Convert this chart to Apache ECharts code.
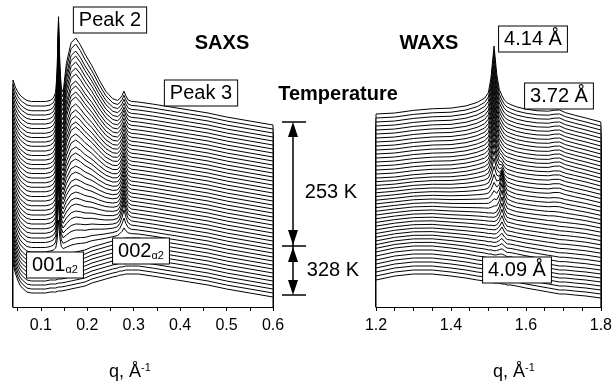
<!DOCTYPE html>
<html>
<head>
<meta charset="utf-8">
<script src="https://cdn.jsdelivr.net/npm/echarts@6.0.0/dist/echarts.min.js"></script>
<style>
html, body { margin: 0; padding: 0; background: #fff; }
#chart { width: 615px; height: 384px; }
</style>
</head>
<body>
<div id="chart"></div>
<script>
// ---- SAXS: q grid and curve shapes (height above the axis)
var saxsQ = [0.04, 0.045, 0.05, 0.055, 0.06, 0.07, 0.08, 0.09, 0.10, 0.11, 0.12, 0.127, 0.132, 0.135,
	0.138, 0.141, 0.144, 0.148, 0.155, 0.165, 0.175, 0.185, 0.195, 0.21, 0.225, 0.24, 0.255, 0.265,
	0.27, 0.275, 0.279, 0.283, 0.288, 0.295, 0.31, 0.34, 0.38, 0.42, 0.46, 0.50, 0.55, 0.60];
// front curve (328 K melt)
var saxsHot = [44, 34, 27, 22, 19, 15, 14, 14, 14, 14, 15, 15, 15, 15,
	16, 16, 16, 16, 17, 18, 19, 20, 21, 24, 26, 28, 30, 31,
	32, 32, 33, 33, 33, 33, 33, 31, 28, 25, 22, 18, 14, 10];
// Peak 2 (broad) shape
var saxsBroad = [0.14, 0.18, 0.21, 0.23, 0.24, 0.25, 0.25, 0.25, 0.25, 0.25, 0.25, 0.25, 0.25, 0.26,
	0.26, 0.26, 0.27, 0.3, 0.7, 0.95, 1.0, 0.9, 0.77, 0.58, 0.38, 0.2, 0.08, 0.04,
	0.03, 0.02, 0.01, 0.01, 0, 0, 0, 0, 0, 0, 0, 0, 0, 0];
// 001 a2 (sharp) shape
var saxsSharp = [0, 0, 0, 0, 0, 0, 0, 0, 0, 0, 0, 0.03, 0.1, 0.35,
	1, 0.4, 0.12, 0.04, 0, 0, 0, 0, 0, 0, 0, 0, 0, 0,
	0, 0, 0, 0, 0, 0, 0, 0, 0, 0, 0, 0, 0, 0];
// Peak 3 / 002 a2 shape
var saxsP3 = [0, 0, 0, 0, 0, 0, 0, 0, 0, 0, 0, 0, 0, 0,
	0, 0, 0, 0, 0, 0, 0, 0, 0, 0, 0, 0, 0, 0.05,
	0.2, 0.6, 1, 0.55, 0.2, 0.06, 0, 0, 0, 0, 0, 0, 0, 0];

// per curve amplitudes, index 0 = front (bottom) curve
var sharpAmp = [0, 0, 0, 0, 0, 0, 0, 0, 0, 0, 30, 45, 55, 60, 62, 63, 64, 65, 66, 67, 68, 69,
	70, 71, 72, 72, 73, 74, 74, 75, 76, 76, 77, 77, 78, 78, 79, 79, 80, 80, 81, 81, 82, 82];
var broadAmp = [0, 0, 0, 0, 0, 0, 0, 0, 0, 0, 4, 6, 10, 12, 15, 17, 20, 22, 24, 27, 29, 32,
	34, 37, 39, 41, 44, 46, 49, 50, 52, 54, 56, 59, 60, 62, 63, 66, 68, 70, 72, 73, 76, 78];
var p3Amp = [0, 0, 0, 0, 0, 0, 0, 0, 0, 0, 6, 12, 16, 18, 18, 17, 17, 16, 16, 16, 15, 15,
	15, 14, 14, 14, 14, 13, 13, 13, 13, 13, 12, 12, 12, 11, 11, 11, 11, 10, 10, 10, 10, 10];

// ---- WAXS
var waxsQ = [1.2, 1.25, 1.3, 1.35, 1.4, 1.44, 1.47, 1.49, 1.50, 1.507, 1.515, 1.522, 1.529, 1.536,
	1.543, 1.55, 1.56, 1.575, 1.6, 1.63, 1.66, 1.675, 1.69, 1.705, 1.73, 1.76, 1.8];
var waxsHot = [27, 31, 33, 33, 31, 29, 27, 26, 25, 25, 24, 24, 24, 23,
	23, 22, 22, 21, 19, 17, 15, 14, 13, 13, 12, 11, 9];
var waxsCold = [21, 22, 24, 25, 25, 26, 27, 27, 27, 27, 27, 27, 27, 27,
	26, 26, 26, 25, 24, 23, 22, 22, 21, 20, 19, 17, 13];
// 4.09 A, 4.14 A and 3.72 A shapes
var waxsA = [0, 0, 0, 0, 0, 0, 0, 0, 0, 0, 0.02, 0.1, 0.4, 1,
	0.4, 0.12, 0.04, 0, 0, 0, 0, 0, 0, 0, 0, 0, 0];
var waxsB = [0, 0, 0.01, 0.02, 0.03, 0.05, 0.09, 0.16, 0.25, 0.5, 1, 0.55, 0.3, 0.2,
	0.14, 0.1, 0.07, 0.05, 0.03, 0.02, 0.01, 0, 0, 0, 0, 0, 0];
var waxsC = [0, 0, 0, 0, 0, 0, 0, 0, 0, 0, 0, 0, 0, 0,
	0, 0, 0, 0, 0, 0, 0.3, 0.7, 1, 0.6, 0.2, 0, 0];

var amp409 = [0, 0, 0, 0, 0, 0, 0, 2, 3, 4, 5, 6, 8, 9, 11, 13, 15, 17, 19, 21, 22, 21,
	18, 14, 10, 7, 5, 3, 2, 1, 0, 0, 0, 0, 0, 0, 0, 0, 0, 0, 0, 0, 0, 0];
var amp414 = [0, 0, 0, 0, 0, 0, 0, 0, 0, 0, 0, 0, 0, 0, 0, 0, 0, 0, 3, 6, 10, 14,
	18, 22, 26, 29, 32, 34, 36, 38, 40, 42, 44, 45, 47, 49, 50, 52, 54, 55, 57, 59, 60, 62];
var amp372 = [0, 0, 0, 0, 0, 0, 0, 0, 0, 0, 0, 0, 0, 0, 0, 0, 0, 0, 1, 1, 2, 2,
	2, 3, 3, 3, 3, 3, 3, 4, 4, 4, 4, 4, 4, 4, 4, 4, 4, 4, 4, 4, 4, 4];
var crystalFrac = [0, 0, 0, 0, 0, 0, 0, 0, 0.05, 0.1, 0.15, 0.2, 0.25, 0.3, 0.35, 0.4, 0.45, 0.5, 0.55, 0.6, 0.65, 0.7,
	0.75, 0.8, 0.85, 0.9, 0.95, 1, 1, 1, 1, 1, 1, 1, 1, 1, 1, 1, 1, 1, 1, 1, 1, 1];

// ---- axes
var saxsTicks = [0.05, 0.10, 0.15, 0.20, 0.25, 0.30, 0.35, 0.40, 0.45, 0.50, 0.55, 0.60];
var saxsLabels = [0.1, 0.2, 0.3, 0.4, 0.5, 0.6];
var waxsTicks = [1.2, 1.25, 1.3, 1.35, 1.4, 1.45, 1.5, 1.55, 1.6, 1.65, 1.7, 1.75, 1.8];
var waxsLabels = [1.2, 1.4, 1.6, 1.8];

var stepOffset = 4; // waterfall shift between curves
var FONT = '"Liberation Sans", Arial, sans-serif';

function saxsValue(i, k) {
	return saxsHot[k] + stepOffset * i + broadAmp[i] * saxsBroad[k] +
		sharpAmp[i] * saxsSharp[k] + p3Amp[i] * saxsP3[k];
}

function waxsValue(i, k) {
	var f = crystalFrac[i];
	return (1 - f) * waxsHot[k] + f * waxsCold[k] + stepOffset * i +
		amp409[i] * waxsA[k] + amp414[i] * waxsB[k] + amp372[i] * waxsC[k];
}

// back curves first, every curve filled white so the front ones hide the ones behind
function addCurves(list, idx, qs, n, getValue) {
	for (var i = n - 1; i >= 0; i--) {
		var data = [[qs[0], 0]];
		for (var k = 0; k < qs.length; k++) {
			data.push([qs[k], getValue(i, k)]);
		}
		data.push([qs[qs.length - 1], 0]);
		list.push({
			type: 'line',
			xAxisIndex: idx,
			yAxisIndex: idx,
			data: data,
			symbol: 'none',
			silent: true,
			z: 10 + n - i,
			lineStyle: { color: '#000', width: 1 },
			areaStyle: { color: '#fff', opacity: 1, origin: 'start' }
		});
	}
}

function makeXAxis(idx, min, max, ticks, labels) {
	return {
		type: 'value',
		gridIndex: idx,
		min: min,
		max: max,
		z: 200,
		splitLine: { show: false },
		axisLine: { lineStyle: { color: '#000', width: 1 } },
		axisTick: { customValues: ticks, length: 4, lineStyle: { color: '#000' } },
		axisLabel: {
			customValues: labels,
			margin: 11,
			color: '#000',
			fontSize: 16,
			fontFamily: FONT,
			formatter: function (v) { return v.toFixed(1); }
		}
	};
}

function boxLabel(x, y, main, sub) {
	var txt = sub ? '{n|' + main + '}{g|' + sub + '}' : '{n|' + main + '}';
	return {
		type: 'text',
		x: x,
		y: y,
		z: 300,
		style: {
			text: txt,
			align: 'center',
			verticalAlign: 'middle',
			backgroundColor: '#fff',
			borderColor: '#000',
			borderWidth: 1,
			padding: [2, 5, 2, 5],
			rich: {
				n: { fontSize: 20, fontFamily: FONT, fill: '#000', lineHeight: 21 },
				g: { fontSize: 11, fontFamily: FONT, fill: '#000', verticalAlign: 'bottom', lineHeight: 11 }
			}
		}
	};
}

function axisName(x, y) {
	return {
		type: 'text',
		x: x,
		y: y,
		z: 300,
		style: {
			text: '{a|q, Å}{s|-1}',
			align: 'center',
			verticalAlign: 'middle',
			rich: {
				a: { fontSize: 18, fontFamily: FONT, fill: '#000', lineHeight: 20 },
				s: { fontSize: 11, fontFamily: FONT, fill: '#000', verticalAlign: 'top', lineHeight: 11 }
			}
		}
	};
}

function plainText(x, y, text, bold, size) {
	return {
		type: 'text',
		x: x,
		y: y,
		z: 300,
		style: {
			text: text,
			align: 'center',
			verticalAlign: 'middle',
			fill: '#000',
			font: (bold ? 'bold ' : '') + size + 'px ' + FONT
		}
	};
}

function seg(x1, y1, x2, y2, w) {
	return { type: 'line', z: 300, shape: { x1: x1, y1: y1, x2: x2, y2: y2 }, style: { stroke: '#000', lineWidth: w } };
}

function head(points) {
	return { type: 'polygon', z: 300, shape: { points: points }, style: { fill: '#000' } };
}

var series = [];
addCurves(series, 0, saxsQ, sharpAmp.length, saxsValue);
addCurves(series, 1, waxsQ, amp414.length, waxsValue);

var chartOption = {
	animation: false,
	grid: [
		{ left: 13, right: 342, top: 10, bottom: 77 },
		{ left: 376, right: 14, top: 10, bottom: 77 }
	],
	xAxis: [
		makeXAxis(0, 0.04, 0.6, saxsTicks, saxsLabels),
		makeXAxis(1, 1.2, 1.8, waxsTicks, waxsLabels)
	],
	yAxis: [
		{ type: 'value', gridIndex: 0, min: 0, max: 297, show: false },
		{ type: 'value', gridIndex: 1, min: 0, max: 297, show: false }
	],
	series: series,
	graphic: [
		boxLabel(110, 20, 'Peak 2'),
		boxLabel(201, 93, 'Peak 3'),
		boxLabel(55, 265, '001', 'α2'),
		boxLabel(141, 251, '002', 'α2'),
		boxLabel(533, 39, '4.14 Å'),
		boxLabel(559, 96, '3.72 Å'),
		boxLabel(517, 270, '4.09 Å'),
		plainText(222, 43, 'SAXS', true, 20),
		plainText(429, 43, 'WAXS', true, 20),
		plainText(338, 94, 'Temperature', true, 20),
		plainText(331, 192, '253 K', false, 20),
		plainText(333, 270, '328 K', false, 20),
		axisName(130, 372),
		axisName(514, 372),
		seg(293, 125, 293, 292, 1.5),
		seg(282, 122, 306, 122, 1.5),
		seg(282, 246, 306, 246, 1.5),
		seg(282, 295, 306, 295, 1.5),
		head([[293, 122], [288, 137], [298, 137]]),
		head([[293, 245], [288, 230], [298, 230]]),
		head([[293, 247], [288, 262], [298, 262]]),
		head([[293, 295], [288, 280], [298, 280]])
	]
};

var mainChart = echarts.init(document.getElementById('chart'));
mainChart.setOption(chartOption);
</script>
</body>
</html>
